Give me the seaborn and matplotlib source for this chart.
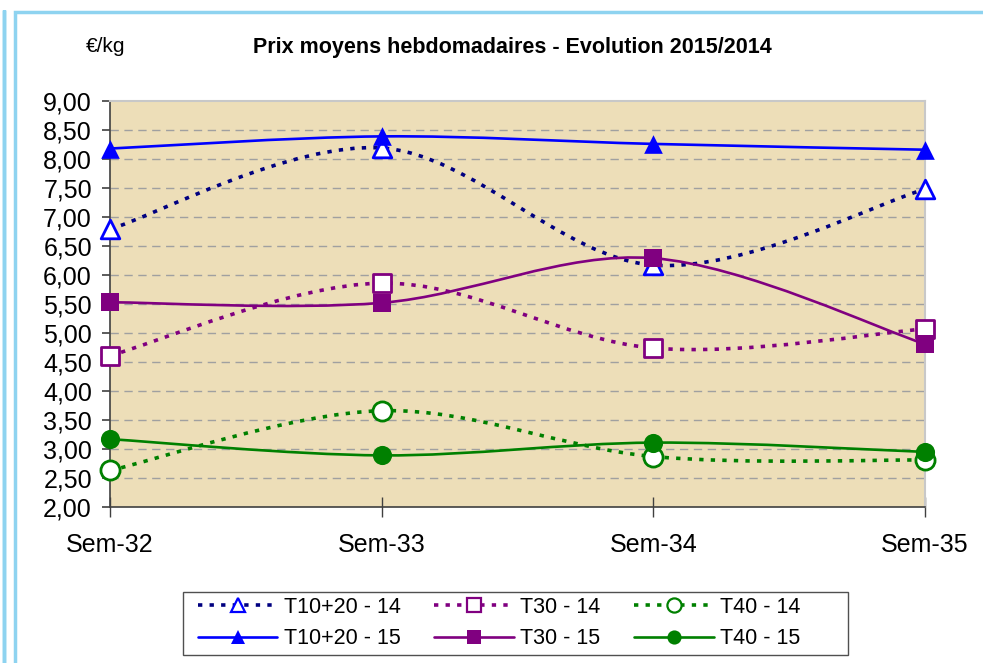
import numpy as np
import pandas as pd
import matplotlib
matplotlib.use("Agg")
import matplotlib.pyplot as plt
from matplotlib.path import Path
from matplotlib.patches import PathPatch, Rectangle
from matplotlib.lines import Line2D
from matplotlib.ticker import FuncFormatter, MultipleLocator
import seaborn as sns

# -----------------------------
# Data
# -----------------------------
weeks = ["Sem-32", "Sem-33", "Sem-34", "Sem-35"]
t1020_14 = [6.79, 8.19, 6.17, 7.48]
t30_14 = [4.61, 5.86, 4.74, 5.07]
t40_14 = [2.63, 3.66, 2.87, 2.81]
t1020_15 = [8.18, 8.39, 8.26, 8.16]
t30_15 = [5.53, 5.52, 6.29, 4.81]
t40_15 = [3.17, 2.89, 3.11, 2.95]

series = {
    "T10+20 - 14": t1020_14,
    "T10+20 - 15": t1020_15,
    "T30 - 14": t30_14,
    "T30 - 15": t30_15,
    "T40 - 14": t40_14,
    "T40 - 15": t40_15,
}

df = pd.DataFrame(
    [(w, name, v) for name, vals in series.items() for w, v in zip(range(len(weeks)), vals)],
    columns=["week", "serie", "price"],
)

# line colour, marker colour, linestyle, marker, filled
DOT = (0, (1.2, 2.0))
styles = {
    "T10+20 - 14": ("#000080", "#0000FF", DOT, "^", False),
    "T10+20 - 15": ("#0000FF", "#0000FF", "-", "^", True),
    "T30 - 14": ("#800080", "#800080", DOT, "s", False),
    "T30 - 15": ("#800080", "#800080", "-", "s", True),
    "T40 - 14": ("#008000", "#008000", DOT, "o", False),
    "T40 - 15": ("#008000", "#008000", "-", "o", True),
}


def smooth_path(xs, ys):
    # Excel-like smoothed line: cubic Bezier segments (Catmull-Rom control points)
    pts = np.column_stack([xs, ys]).astype(float)
    n = len(pts)
    verts = [pts[0]]
    codes = [Path.MOVETO]
    for i in range(n - 1):
        p0 = pts[i - 1] if i > 0 else pts[i]
        p1 = pts[i]
        p2 = pts[i + 1]
        p3 = pts[i + 2] if i + 2 < n else pts[i + 1]
        c1 = p1 + (p2 - p0) / 6
        c2 = p2 - (p3 - p1) / 6
        verts += [c1, c2, p2]
        codes += [Path.CURVE4] * 3
    return Path(verts, codes)


sns.set_style("white")
plt.rcParams["font.family"] = ["Liberation Sans", "DejaVu Sans"]
plt.rcParams["text.color"] = "black"
plt.rcParams["xtick.color"] = "black"
plt.rcParams["ytick.color"] = "black"

fig = plt.figure(figsize=(9.83, 6.63), dpi=100)
ax = fig.add_axes([110 / 983, 1 - 507 / 663, 815 / 983, 406 / 663])

# frame lines around the chart object
fig.patches.append(Rectangle((3.5 / 983, -0.1), 0, 1.1 - 10 / 663, transform=fig.transFigure,
                             fill=False, edgecolor="#8ED3F0", lw=2.5))
fig.patches.append(Rectangle((14.5 / 983, -0.1), 2, 1.1 - 12.5 / 663, transform=fig.transFigure,
                             fill=False, edgecolor="#8ED3F0", lw=2.5))

ax.set_facecolor("#EDDEB8")

# smoothed lines
for name, vals in series.items():
    lc, mc, ls, mk, filled = styles[name]
    path = smooth_path(np.arange(len(weeks)), vals)
    ax.add_patch(PathPatch(path, facecolor="none", edgecolor=lc, lw=1.9 if ls == "-" else 2.6,
                           linestyle=ls, zorder=3, capstyle="butt"))

# markers through seaborn
for name in series:
    lc, mc, ls, mk, filled = styles[name]
    sub = df[df["serie"] == name]
    sns.scatterplot(data=sub, x="week", y="price", marker=mk, s=180 if mk != "o" else 190,
                    color=mc if filled else "white", edgecolor=mc,
                    linewidth=0 if filled else 2.0, ax=ax, zorder=4, clip_on=False, legend=False)

ax.set_xlim(0, 3)
ax.set_ylim(2, 9)
ax.yaxis.set_major_locator(MultipleLocator(0.5))
ax.yaxis.set_major_formatter(FuncFormatter(lambda v, p: f"{v:.2f}".replace(".", ",")))
ax.set_xticks(range(len(weeks)))
ax.set_xticklabels(weeks)
ax.set_xlabel("")
ax.set_ylabel("")

for y in np.arange(2.5, 9.0, 0.5):
    ax.axhline(y, color="#A0A0A0", lw=1.0, dashes=(6, 4), zorder=1)

for side in ["top", "right"]:
    ax.spines[side].set_color("#C8C8C8")
    ax.spines[side].set_linewidth(1.5)
for side in ["left", "bottom"]:
    ax.spines[side].set_color("#404040")
    ax.spines[side].set_linewidth(1.2)

ax.tick_params(axis="y", direction="out", length=6, width=1.2, color="#404040",
               labelsize=18, pad=7, left=True, labelcolor="black")
ax.tick_params(axis="x", direction="inout", length=14, width=1.0, color="#404040",
               labelsize=18, pad=12, bottom=True, labelcolor="black")

fig.text(512 / 983, 1 - 47 / 663, "Prix moyens hebdomadaires - Evolution 2015/2014",
         ha="center", va="center", fontsize=15.5, fontweight="bold", color="black")
fig.text(106 / 983, 1 - 46 / 663, "€/kg", ha="center", va="center", fontsize=15, color="black")

# legend (frame drawn separately to match the wide Excel box)
handles = []
for name in series:
    lc, mc, ls, mk, filled = styles[name]
    handles.append(Line2D([0], [0], color=lc, lw=1.9 if ls == "-" else 2.6, linestyle=ls,
                          marker=mk, markersize=12,
                          markerfacecolor=mc if filled else "white", markeredgecolor=mc,
                          markeredgewidth=0 if filled else 1.6))
leg = fig.legend(handles=handles, labels=list(series.keys()), ncol=3,
                 loc="center left", bbox_to_anchor=(187 / 983, 1 - 623 / 663),
                 frameon=False, fontsize=15.5, handlelength=3.7,
                 handletextpad=0.3, columnspacing=1.55, labelspacing=0.5,
                 borderpad=0.0, markerscale=0.85)
for t in leg.get_texts():
    t.set_color("black")
fig.patches.append(Rectangle((183 / 983, 1 - 655 / 663), 665 / 983, 63 / 663,
                             transform=fig.transFigure, fill=False,
                             edgecolor="#505050", lw=1.0))

fig.savefig("out.png", dpi=100)
